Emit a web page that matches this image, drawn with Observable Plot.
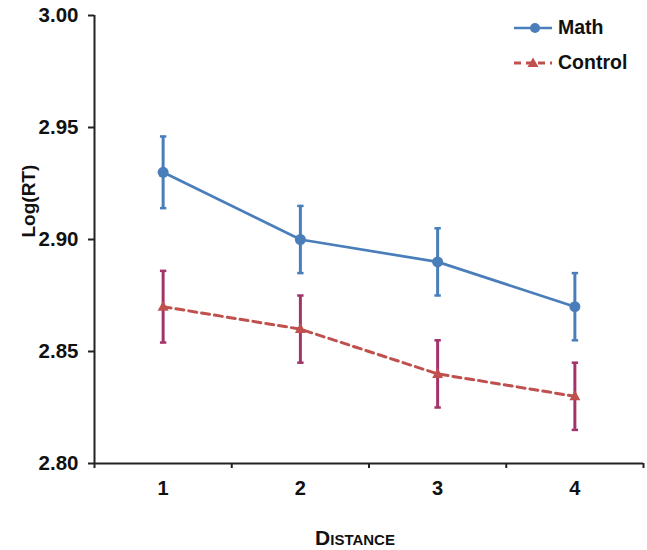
<!DOCTYPE html>
<html>
<head>
<meta charset="utf-8">
<script src="https://cdn.jsdelivr.net/npm/d3@7"></script>
<script src="https://cdn.jsdelivr.net/npm/@observablehq/plot@0.6"></script>
<style>
  html, body { margin: 0; padding: 0; background: #fff; }
  #wrap { position: relative; width: 647px; height: 550px; font-family: "Liberation Sans", Arial, sans-serif; }
  #legend { position: absolute; left: 512px; top: 10px; font-weight: bold; font-size: 19.5px; color: #111; }
  #legend .row { display: flex; align-items: center; height: 35px; }
  #legend svg { margin-right: 4px; }
</style>
</head>
<body>
<div id="wrap"><div id="chart"></div>
<div id="legend">
  <div class="row"><svg width="42" height="14"><line x1="2" y1="7" x2="40" y2="7" stroke="#4a7ebb" stroke-width="2.5"/><circle cx="23" cy="7" r="5" fill="#4a7ebb"/></svg>Math</div>
  <div class="row"><svg width="42" height="14"><line x1="2" y1="7" x2="40" y2="7" stroke="#c0504d" stroke-width="3" stroke-dasharray="7,5"/><path d="M21,1.5 L26.5,11 L15.5,11 Z" fill="#c0504d"/></svg>Control</div>
</div>
</div>
<script>
const distance = [1, 2, 3, 4];
const mathMean = [2.93, 2.90, 2.89, 2.87];
const mathErr = [0.016, 0.015, 0.015, 0.015];
const controlMean = [2.87, 2.86, 2.84, 2.83];
const controlErr = [0.016, 0.015, 0.015, 0.015];
const yTicks = [2.80, 2.85, 2.90, 2.95, 3.00];
const xBounds = [0.5, 1.5, 2.5, 3.5, 4.5];

const mathData = distance.map((d, i) => ({x: d, y: mathMean[i], lo: mathMean[i] - mathErr[i], hi: mathMean[i] + mathErr[i]}));
const controlData = distance.map((d, i) => ({x: d, y: controlMean[i], lo: controlMean[i] - controlErr[i], hi: controlMean[i] + controlErr[i]}));

const cap = {draw(ctx, size) { const w = 3.2; ctx.moveTo(-w, 0); ctx.lineTo(w, 0); }};
const tri = {draw(ctx, size) { ctx.moveTo(0, -6); ctx.lineTo(5.5, 4); ctx.lineTo(-5.5, 4); ctx.closePath(); }};

const blue = "#4a7ebb", red = "#c0504d", purple = "#a3336b";

const chart = Plot.plot({
  width: 647,
  height: 550,
  marginLeft: 94,
  marginRight: 4,
  marginTop: 15,
  marginBottom: 87,
  style: {fontFamily: "Liberation Sans, Arial, sans-serif", background: "#fff"},
  x: {domain: [0.5, 4.5], axis: null},
  y: {domain: [2.8, 3.0], axis: null},
  marks: [
    Plot.axisY({ticks: yTicks, tickFormat: d => d.toFixed(2), tickSize: 6, tickPadding: 10, fontSize: 20.5, fontWeight: "bold", stroke: "#222", strokeWidth: 2, label: null, color: "#111"}),
    Plot.axisX({ticks: xBounds, tickFormat: () => "", tickSize: 5, stroke: "#222", strokeWidth: 2, label: null}),
    Plot.axisX({ticks: distance, tickFormat: d => String(d), tickSize: 0, tickPadding: 17, fontSize: 20, fontWeight: "bold", label: null, color: "#111"}),
    Plot.ruleX([0.5], {y1: 2.8, y2: 3.0, stroke: "#222", strokeWidth: 2}),
    Plot.ruleY([2.8], {stroke: "#222", strokeWidth: 2}),
    Plot.line(mathData, {x: "x", y: "y", stroke: blue, strokeWidth: 2.7}),
    Plot.line(controlData, {x: "x", y: "y", stroke: red, strokeWidth: 3, strokeDasharray: "8,5"}),
    Plot.ruleX(mathData, {x: "x", y1: "lo", y2: "hi", stroke: blue, strokeWidth: 3}),
    Plot.dot(mathData, {x: "x", y: "lo", symbol: cap, stroke: blue, strokeWidth: 2.5}),
    Plot.dot(mathData, {x: "x", y: "hi", symbol: cap, stroke: blue, strokeWidth: 2.5}),
    Plot.ruleX(controlData, {x: "x", y1: "lo", y2: "hi", stroke: purple, strokeWidth: 3}),
    Plot.dot(controlData, {x: "x", y: "lo", symbol: cap, stroke: purple, strokeWidth: 2.5}),
    Plot.dot(controlData, {x: "x", y: "hi", symbol: cap, stroke: purple, strokeWidth: 2.5}),
    Plot.dot(mathData, {x: "x", y: "y", r: 5.5, fill: blue}),
    Plot.dot(controlData, {x: "x", y: "y", symbol: tri, fill: red}),
    Plot.text(["Log(RT)"], {frameAnchor: "left", rotate: -90, dx: -66, dy: -2, fontSize: 19, fontWeight: "bold", fill: "#111"}),
    Plot.text(["Distance"], {frameAnchor: "bottom", dx: -14, dy: 81, fontSize: 21, fontWeight: "bold", fontVariant: "small-caps", fill: "#111"})
  ]
});
document.getElementById("chart").appendChild(chart);
</script>
</body>
</html>
